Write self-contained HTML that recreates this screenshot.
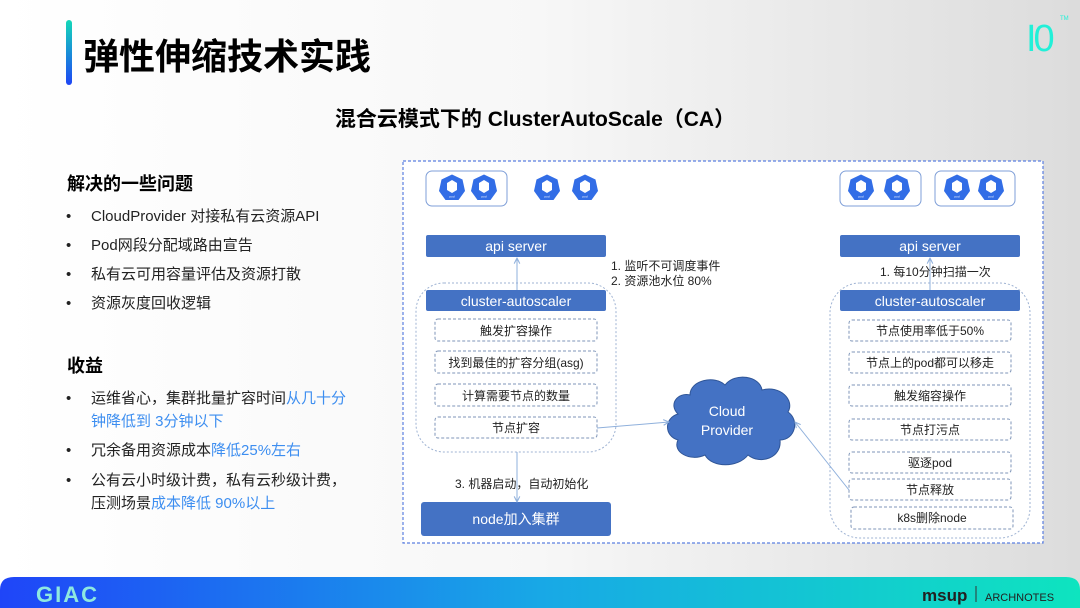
<!DOCTYPE html>
<html><head><meta charset="utf-8"><style>
html,body{margin:0;padding:0;}
body{width:1080px;height:608px;overflow:hidden;background:linear-gradient(90deg,#ffffff 0%,#f7f7f7 50%,#dcdcdc 100%);}
svg{position:absolute;left:0;top:0;font-family:"Liberation Sans","Noto Sans CJK SC",sans-serif;}
</style></head><body>
<svg width="1080" height="608" viewBox="0 0 1080 608">
<defs>
<linearGradient id="bar" x1="0" y1="0" x2="0" y2="1"><stop offset="0" stop-color="#14d8b8"/><stop offset="1" stop-color="#1e45f5"/></linearGradient>
<linearGradient id="foot" x1="0" y1="0" x2="1" y2="0"><stop offset="0" stop-color="#1f45f8"/><stop offset="0.5" stop-color="#18a8e6"/><stop offset="1" stop-color="#0ee4bf"/></linearGradient>
<marker id="ar" viewBox="0 0 10 10" refX="9" refY="5" markerWidth="7" markerHeight="7" orient="auto"><path d="M1 1 L9 5 L1 9" fill="none" stroke="#8fb0dc" stroke-width="1.5"/></marker>
<g id="pod"><polygon points="0,-13.5 10.5,-8.5 13,3 6.5,12 -6.5,12 -13,3 -10.5,-8.5" fill="#326de6"/><path d="M-5,-5 L0,-8 L5,-5 L5,2 L0,5 L-5,2Z" fill="#fff"/><text x="0" y="9.5" font-size="3" fill="#fff" text-anchor="middle">pod</text></g>
</defs>
<rect x="66" y="20" width="6" height="65" rx="3" fill="url(#bar)"/>
<text x="83" y="69" font-size="36" font-weight="bold" fill="#000">弹性伸缩技术实践</text>
<text x="1026" y="51" font-size="38" fill="#22f0d8" letter-spacing="-3">I0</text>
<text x="1060" y="20" font-size="6" fill="#22f0d8">TM</text>
<text x="535" y="126" font-size="21" font-weight="bold" fill="#000" text-anchor="middle">混合云模式下的 ClusterAutoScale（CA）</text>
<g font-size="15" fill="#222">
<text x="67" y="190" font-size="18" font-weight="bold" fill="#000">解决的一些问题</text>
<text x="66" y="221">•</text><text x="91" y="221">CloudProvider 对接私有云资源API</text>
<text x="66" y="250">•</text><text x="91" y="250">Pod网段分配域路由宣告</text>
<text x="66" y="279">•</text><text x="91" y="279">私有云可用容量评估及资源打散</text>
<text x="66" y="308">•</text><text x="91" y="308">资源灰度回收逻辑</text>
<text x="67" y="372" font-size="18" font-weight="bold" fill="#000">收益</text>
<text x="66" y="403">•</text><text x="91" y="403">运维省心，集群批量扩容时间<tspan fill="#3d8ef0">从几十分</tspan></text>
<text x="91" y="426" fill="#3d8ef0">钟降低到 3分钟以下</text>
<text x="66" y="455">•</text><text x="91" y="455">冗余备用资源成本<tspan fill="#3d8ef0">降低25%左右</tspan></text>
<text x="66" y="485">•</text><text x="91" y="485">公有云小时级计费，私有云秒级计费，</text>
<text x="91" y="508">压测场景<tspan fill="#3d8ef0">成本降低 90%以上</tspan></text>
</g>
<rect x="403" y="161" width="640" height="382" fill="#fff" stroke="#5b7fe0" stroke-width="1.2" stroke-dasharray="3,2"/>
<rect x="426" y="171" width="81" height="35" rx="6" fill="none" stroke="#7f9fd8"/>
<rect x="840" y="171" width="81" height="35" rx="6" fill="none" stroke="#7f9fd8"/>
<rect x="935" y="171" width="80" height="35" rx="6" fill="none" stroke="#7f9fd8"/>
<use href="#pod" x="452" y="188"/><use href="#pod" x="484" y="188"/>
<use href="#pod" x="547" y="188"/><use href="#pod" x="585" y="188"/>
<use href="#pod" x="861" y="188"/><use href="#pod" x="897" y="188"/>
<use href="#pod" x="957" y="188"/><use href="#pod" x="991" y="188"/>
<g font-size="14" fill="#fff" text-anchor="middle">
<rect x="416" y="283" width="200" height="169" rx="28" fill="none" stroke="#9fb3d3" stroke-dasharray="2,2"/>
<rect x="426" y="235" width="180" height="22" rx="2" fill="#4472c4"/><text x="516" y="251">api server</text>
<rect x="426" y="290" width="180" height="21" rx="2" fill="#4472c4"/><text x="516" y="306">cluster-autoscaler</text>
<rect x="421" y="502" width="190" height="34" rx="3" fill="#4472c4"/><text x="516" y="524">node加入集群</text>
<rect x="840" y="235" width="180" height="22" rx="2" fill="#4472c4"/><text x="930" y="251">api server</text>
<rect x="830" y="283" width="200" height="255" rx="30" fill="none" stroke="#9fb3d3" stroke-dasharray="2,2"/>
<rect x="840" y="290" width="180" height="21" rx="2" fill="#4472c4"/><text x="930" y="306">cluster-autoscaler</text>
</g>
<g font-size="12" fill="#222" text-anchor="middle" stroke-dasharray="3,2">
<g fill="none" stroke="#7f95b8">
<rect x="435" y="319" width="162" height="22" rx="3"/><rect x="435" y="351" width="162" height="22" rx="3"/>
<rect x="435" y="384" width="162" height="22" rx="3"/><rect x="435" y="417" width="162" height="21" rx="3"/>
<rect x="849" y="320" width="162" height="21" rx="3"/><rect x="849" y="352" width="162" height="21" rx="3"/>
<rect x="849" y="385" width="162" height="21" rx="3"/><rect x="849" y="419" width="162" height="21" rx="3"/>
<rect x="849" y="452" width="162" height="21" rx="3"/><rect x="849" y="479" width="162" height="21" rx="3"/>
<rect x="851" y="507" width="162" height="22" rx="3"/>
</g>
<text x="516" y="335">触发扩容操作</text><text x="516" y="367">找到最佳的扩容分组(asg)</text>
<text x="516" y="400">计算需要节点的数量</text><text x="516" y="432">节点扩容</text>
<text x="930" y="335">节点使用率低于50%</text><text x="930" y="367">节点上的pod都可以移走</text>
<text x="930" y="400">触发缩容操作</text><text x="930" y="434">节点打污点</text>
<text x="930" y="467">驱逐pod</text><text x="930" y="494">节点释放</text>
<text x="932" y="522">k8s删除node</text>
</g>
<g font-size="12" fill="#222">
<text x="611" y="270">1. 监听不可调度事件</text>
<text x="611" y="285">2. 资源池水位 80%</text>
<text x="880" y="276">1. 每10分钟扫描一次</text>
<text x="455" y="488">3. 机器启动，自动初始化</text>
</g>
<g fill="#4472c4" stroke="#2f5597" stroke-width="1">
<path d="M690,395 C690,380 715,375 725,385 C735,372 760,376 762,390 C780,385 795,400 788,412 C800,420 795,440 780,440 C782,458 760,465 748,455 C738,468 712,468 705,455 C690,462 672,452 678,440 C664,436 664,418 678,414 C668,404 678,392 690,395Z"/>
</g>
<text x="727" y="416" font-size="14" fill="#fff" text-anchor="middle">Cloud</text>
<text x="727" y="435" font-size="14" fill="#fff" text-anchor="middle">Provider</text>
<g stroke="#8fb0dc" stroke-width="1" fill="none">
<line x1="517" y1="290" x2="517" y2="258" marker-end="url(#ar)"/>
<line x1="517" y1="452" x2="517" y2="502" marker-end="url(#ar)"/>
<line x1="930" y1="290" x2="930" y2="258" marker-end="url(#ar)"/>
<line x1="597" y1="428" x2="669" y2="422" marker-end="url(#ar)"/>
<line x1="849" y1="490" x2="795" y2="422" marker-end="url(#ar)"/>
</g>
<path d="M0,590 Q0,577 14,577 L1066,577 Q1080,577 1080,590 L1080,608 L0,608Z" fill="url(#foot)"/>
<text x="36" y="602" font-size="22" font-weight="bold" fill="#8ee8e0" letter-spacing="2">GIAC</text>
<text x="922" y="601" font-size="17" font-weight="bold" fill="#222">msup</text>
<line x1="976" y1="586" x2="976" y2="602" stroke="#333"/>
<text x="985" y="601" font-size="11" fill="#222">ARCHNOTES</text>
</svg>
</body></html>
